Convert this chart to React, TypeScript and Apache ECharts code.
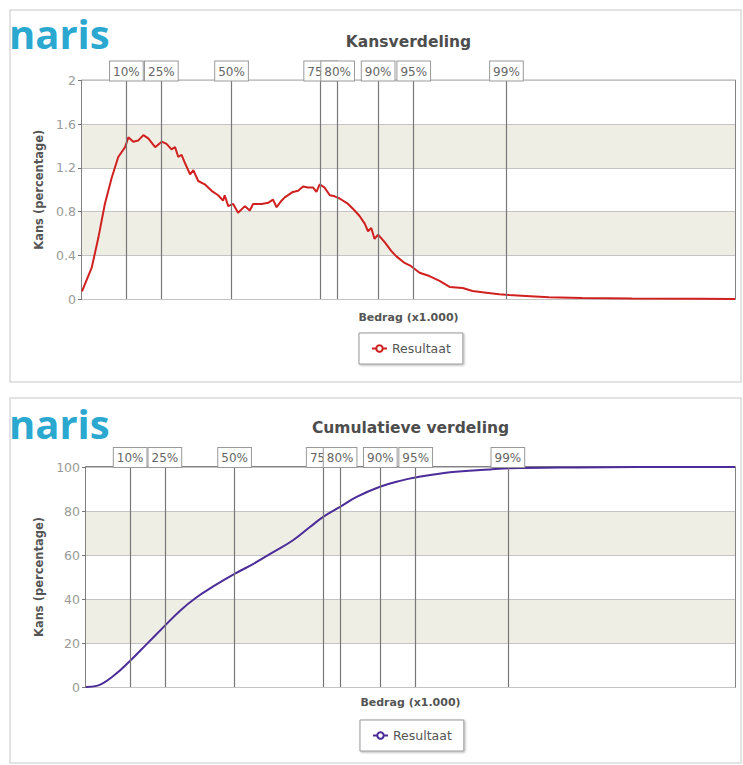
import { useEffect, useRef } from "react";
import * as echarts from "echarts";

// ---- Data ----
const PERCENTILE_LABELS = ["10%", "25%", "50%", "75%", "80%", "90%", "95%", "99%"];
const PERCENTILE_X = [6.8, 12.15, 22.9, 36.55, 39.15, 45.35, 50.8, 65.0];

const DENSITY_X = [
  0, 1.5, 2.5, 3.5, 4.55, 5.55, 6.6, 7.1, 7.85, 8.6, 9.4, 10.15, 11.2, 12.2, 12.95, 13.7,
  14.25, 14.75, 15.25, 15.8, 16.55, 17.05, 17.8, 18.8, 19.85, 20.85, 21.6, 21.85, 22.4,
  23.15, 23.9, 24.95, 25.7, 26.2, 27.5, 28.5, 29.25, 29.8, 30.55, 31.05, 32.3, 33.1, 33.85,
  34.6, 35.4, 35.9, 36.4, 37.15, 37.95, 38.7, 39.45, 40.75, 41.75, 42.5, 43.3, 43.8, 44.3,
  44.8, 45.35, 46.35, 47.35, 48.15, 49.4, 50.4, 51.7, 53.2, 54.75, 56.3, 58.3, 59.8, 61.9,
  63.9, 65.4, 68.0, 71.5, 76.6, 84.2, 94.5, 100,
];
const DENSITY_Y = [
  0.07, 0.29, 0.56, 0.87, 1.11, 1.3, 1.39, 1.48, 1.44, 1.45, 1.5, 1.47, 1.39, 1.44, 1.42, 1.37,
  1.39, 1.3, 1.32, 1.24, 1.14, 1.18, 1.08, 1.05, 0.99, 0.95, 0.9, 0.95, 0.85,
  0.87, 0.79, 0.85, 0.81, 0.87, 0.87, 0.88, 0.91, 0.84, 0.9, 0.93, 0.98, 0.99, 1.03,
  1.02, 1.02, 0.98, 1.05, 1.02, 0.95, 0.94, 0.92, 0.87, 0.81, 0.76, 0.69, 0.62, 0.65,
  0.55, 0.59, 0.52, 0.44, 0.39, 0.33, 0.3, 0.24, 0.21, 0.165, 0.11, 0.1, 0.073, 0.058,
  0.043, 0.037, 0.028, 0.015, 0.01, 0.005, 0.002, 0,
];

const CUMULATIVE_X = [
  0, 1.65, 4.2, 6.8, 9.35, 11.9, 14.5, 17.05, 19.6, 22.95, 25.8, 28.85, 31.9, 34.5, 36.55,
  39.15, 41.7, 45.3, 48.4, 50.95, 56.1, 62.25, 65.3, 75.6, 85, 100,
];
const CUMULATIVE_Y = [
  0, 0.5, 5, 11.9, 19.5, 27.1, 34.7, 40.8, 45.7, 51.5, 56.0, 61.3, 66.7, 72.7, 77.3,
  81.9, 86.4, 91.0, 93.7, 95.3, 97.6, 98.9, 99.4, 99.8, 100, 100,
];

const DENSITY_TICKS = [0, 0.4, 0.8, 1.2, 1.6, 2];
const CUMULATIVE_TICKS = [0, 20, 40, 60, 80, 100];

const FONT = '"DejaVu Sans", sans-serif';

type PanelCfg = {
  title: string;
  titleY: number;
  frameY: number;
  frameH: number;
  logoY: number;
  gridLeft: number;
  gridTop: number;
  gridWidth: number;
  gridHeight: number;
  ticks: number[];
  xs: number[];
  ys: number[];
  color: string;
  smooth: boolean;
  yNameGap: number;
  xNameGap: number;
  legendTop: number;
  legendLeft: number;
};

function buildOption(c: PanelCfg) {
  const plotCenter = c.gridLeft + c.gridWidth / 2;
  return {
    animation: false,
    textStyle: { fontFamily: FONT },
    graphic: [
      {
        type: "rect",
        silent: true,
        shape: { x: 10, y: c.frameY, width: 731, height: c.frameH },
        style: { fill: "none", stroke: "#dadada", lineWidth: 1.5 },
      },
      {
        type: "text",
        x: 9,
        y: c.logoY,
        style: {
          text: "naris",
          fontSize: 40,
          fontWeight: "bold",
          fontFamily: '"Open Sans", sans-serif',
          fill: "#2aa8cf",
          verticalAlign: "middle",
        },
      },
      {
        type: "text",
        x: plotCenter,
        y: c.titleY,
        style: {
          text: c.title,
          fontSize: 15.5,
          fontWeight: "bold",
          fontFamily: FONT,
          fill: "#4d4d4d",
          align: "center",
          verticalAlign: "middle",
        },
      },
    ],
    legend: {
      data: ["Resultaat"],
      left: c.legendLeft,
      top: c.legendTop,
      padding: [9, 12],
      itemWidth: 15,
      itemHeight: 8,
      itemGap: 5,
      backgroundColor: "#fff",
      borderColor: "#999",
      borderWidth: 1,
      shadowColor: "rgba(0,0,0,0.3)",
      shadowBlur: 2,
      shadowOffsetX: 1,
      shadowOffsetY: 1,
      textStyle: { fontSize: 12.5, color: "#555", fontFamily: FONT },
    },
    grid: {
      left: c.gridLeft,
      top: c.gridTop,
      width: c.gridWidth,
      height: c.gridHeight,
      show: true,
      borderColor: "#5a5a5a",
      borderWidth: 1.5,
      backgroundColor: "transparent",
    },
    xAxis: {
      type: "value",
      min: 0,
      max: 100,
      name: "Bedrag (x1.000)",
      nameLocation: "middle",
      nameGap: c.xNameGap,
      nameTextStyle: { fontSize: 11, fontWeight: "bold", color: "#555", fontFamily: FONT },
      axisLine: { show: false },
      axisTick: { show: false },
      axisLabel: { show: false },
      splitLine: { show: false },
    },
    yAxis: {
      type: "value",
      min: c.ticks[0],
      max: c.ticks[c.ticks.length - 1],
      interval: c.ticks[1] - c.ticks[0],
      name: "Kans (percentage)",
      nameLocation: "middle",
      nameRotate: 90,
      nameGap: c.yNameGap,
      nameTextStyle: { fontSize: 11.5, fontWeight: "bold", color: "#555", fontFamily: FONT },
      axisLine: { show: false },
      axisTick: { show: true, length: 4, lineStyle: { color: "#777" } },
      axisLabel: { color: "#9a9a9a", fontSize: 12.5, margin: 6, fontFamily: FONT },
      splitLine: { show: true, lineStyle: { color: "#c4c4c4", width: 1 } },
      splitArea: { show: true, areaStyle: { color: ["#ffffff", "#eeeee5"] } },
    },
    series: [
      {
        name: "Percentielen",
        type: "line",
        data: [],
        z: 1,
        silent: true,
        markLine: {
          silent: true,
          symbol: ["none", "none"],
          lineStyle: { color: "#777", width: 1.2, type: "solid" },
          label: {
            show: true,
            position: "end",
            distance: 0,
            formatter: "{b}",
            color: "#666",
            fontSize: 12,
            fontFamily: FONT,
            backgroundColor: "#fff",
            borderColor: "#999",
            borderWidth: 1,
            padding: [4, 3, 3, 3],
          },
          data: PERCENTILE_X.map((x, i) => ({ xAxis: x, name: PERCENTILE_LABELS[i] })),
        },
      },
      {
        name: "Resultaat",
        type: "line",
        z: 3,
        data: c.xs.map((x, i) => [x, c.ys[i]]),
        smooth: c.smooth ? 0.4 : false,
        symbol: "emptyCircle",
        showSymbol: false,
        symbolSize: 6,
        itemStyle: { color: c.color },
        lineStyle: { color: c.color, width: 2 },
      },
    ],
  };
}

export default function App() {
  const topRef = useRef<HTMLDivElement>(null);
  const bottomRef = useRef<HTMLDivElement>(null);

  useEffect(() => {
    const top = echarts.init(topRef.current!, undefined, { renderer: "svg" });
    const bottom = echarts.init(bottomRef.current!, undefined, { renderer: "svg" });
    top.setOption(
      buildOption({
        title: "Kansverdeling",
        titleY: 42,
        frameY: 10,
        frameH: 372,
        logoY: 33,
        gridLeft: 82,
        gridTop: 80.5,
        gridWidth: 653,
        gridHeight: 218.5,
        ticks: DENSITY_TICKS,
        xs: DENSITY_X,
        ys: DENSITY_Y,
        color: "#d0201f",
        smooth: false,
        yNameGap: 28,
        xNameGap: 13,
        legendTop: 333,
        legendLeft: 359,
      })
    );
    bottom.setOption(
      buildOption({
        title: "Cumulatieve verdeling",
        titleY: 38,
        frameY: 8,
        frameH: 365,
        logoY: 33,
        gridLeft: 86,
        gridTop: 77,
        gridWidth: 649,
        gridHeight: 220,
        ticks: CUMULATIVE_TICKS,
        xs: CUMULATIVE_X,
        ys: CUMULATIVE_Y,
        color: "#4b2c98",
        smooth: true,
        yNameGap: 32,
        xNameGap: 10,
        legendTop: 330,
        legendLeft: 360,
      })
    );
    return () => {
      top.dispose();
      bottom.dispose();
    };
  }, []);

  return (
    <div
      style={{
        position: "absolute",
        left: 0,
        top: 0,
        width: 743,
        height: 765,
        background: "#fff",
      }}
    >
      <div ref={topRef} style={{ position: "absolute", left: 0, top: 0, width: 743, height: 390 }} />
      <div ref={bottomRef} style={{ position: "absolute", left: 0, top: 390, width: 743, height: 375 }} />
    </div>
  );
}
